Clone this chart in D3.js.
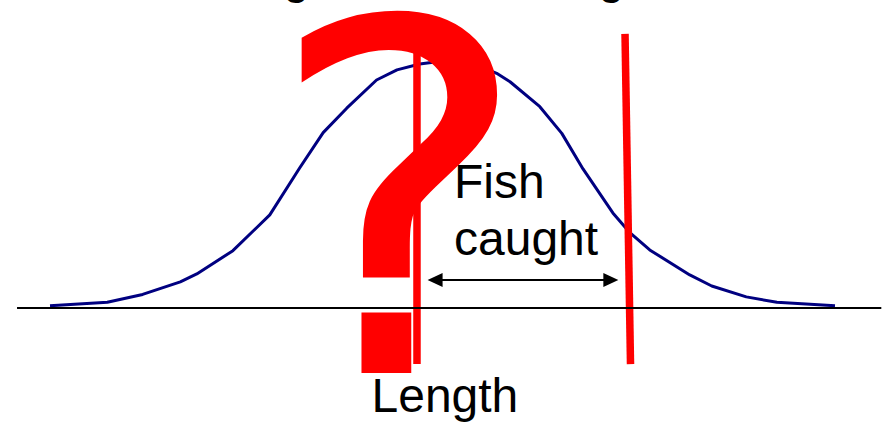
<!DOCTYPE html>
<html>
<head>
<meta charset="utf-8">
<script src="https://cdn.jsdelivr.net/npm/d3@7"></script>
<style>
  html, body { margin: 0; padding: 0; background: #fff; }
  svg { display: block; font-family: "Liberation Sans", Arial, sans-serif; }
</style>
</head>
<body>
<div id="chart"></div>
<script>
// length classes (arbitrary units) and relative frequency
const lengths = [0, 7.3, 11.8, 16.6, 18.7, 23.3, 28.0, 31.8, 34.8, 37.8, 41.6, 44.2, 47.1, 49.3,
    51.6, 54.1, 56.9, 58.6, 62.4, 65.2, 67.9, 71.7, 73.9, 76.4, 81.5, 84.3, 88.7, 92.6, 100];
const frequency = [0.9, 2.3, 5.5, 10.6, 13.8, 23.2, 37.7, 56.7, 71.0, 80.9, 92.3, 96.4, 98.8, 99.7,
    100, 98.8, 95.0, 91.6, 81.5, 70.7, 56.3, 38.5, 30.4, 23.5, 13.4, 8.9, 4.5, 2.3, 0.9];

// gear limits, as [length at top, length at bottom] of each red bar
const lowerLimit = [46.75, 46.75];
const upperLimit = [73.25, 73.95];
const limitSpan = [111, -22.7];      // frequency units at the top / bottom of the bars
const caughtRange = [48.1, 72.4];    // arrow ends
const arrowLevel = 11.3;
const axisExtent = [-4.2, 105.9];    // baseline runs a bit past the curve

const labels = { fish: ["Fish", "caught"], axis: "Length", mark: "?" };

const width = 887, height = 423;

const xScale = d3.scaleLinear().domain([0, 100]).range([50, 835]);
const yScale = d3.scaleLinear().domain([0, 100]).range([308, 61]);

const svg = d3.select("#chart").append("svg")
    .attr("width", width)
    .attr("height", height);

// title of the slide sits above the frame, only the g tails show
svg.selectAll(".title-g")
    .data([296.5, 611.5])
    .enter().append("text")
    .attr("class", "title-g")
    .attr("x", d => d)
    .attr("y", -5.5)
    .attr("text-anchor", "middle")
    .attr("font-size", 40)
    .attr("font-weight", "bold")
    .text("g");

// population curve
const line = d3.line()
    .x(d => xScale(d[0]))
    .y(d => yScale(d[1]));

svg.append("path")
    .datum(d3.zip(lengths, frequency))
    .attr("fill", "none")
    .attr("stroke", "#000080")
    .attr("stroke-width", 3)
    .attr("stroke-linejoin", "round")
    .attr("d", line);

// gear selectivity limits
svg.selectAll(".limit")
    .data([lowerLimit, upperLimit])
    .enter().append("line")
    .attr("class", "limit")
    .attr("x1", d => xScale(d[0]))
    .attr("y1", yScale(limitSpan[0]))
    .attr("x2", d => xScale(d[1]))
    .attr("y2", yScale(limitSpan[1]))
    .attr("stroke", "#ff0000")
    .attr("stroke-width", 7.5);

// baseline
svg.append("line")
    .attr("x1", xScale(axisExtent[0]))
    .attr("x2", xScale(axisExtent[1]))
    .attr("y1", yScale(0))
    .attr("y2", yScale(0))
    .attr("stroke", "#000")
    .attr("stroke-width", 2);

// big question mark, stretched to fit its box
const qFont = '"DejaVu Sans"';
const qBox = { left: 297, right: 501, top: 7, bottom: 373 };
const ctx = document.createElement("canvas").getContext("2d");
ctx.font = `500px ${qFont}`;
const m = ctx.measureText(labels.mark);
const sx = (qBox.right - qBox.left) / (m.actualBoundingBoxLeft + m.actualBoundingBoxRight);
const sy = (qBox.bottom - qBox.top) / (m.actualBoundingBoxAscent + m.actualBoundingBoxDescent);
svg.append("text")
    .attr("transform", `translate(${qBox.left + sx * m.actualBoundingBoxLeft},${qBox.bottom - sy * m.actualBoundingBoxDescent}) scale(${sx},${sy})`)
    .attr("font-family", qFont)
    .attr("font-size", 500)
    .attr("fill", "#ff0000")
    .text(labels.mark);

// double arrow for the range caught
const ay = yScale(arrowLevel);
const ax0 = xScale(caughtRange[0]), ax1 = xScale(caughtRange[1]);
const head = 15, half = 7;
svg.append("line")
    .attr("x1", ax0 + head - 2).attr("x2", ax1 - head + 2)
    .attr("y1", ay).attr("y2", ay)
    .attr("stroke", "#000")
    .attr("stroke-width", 2);
svg.append("path")
    .attr("d", `M${ax0},${ay}L${ax0 + head},${ay - half}L${ax0 + head},${ay + half}Z` +
        `M${ax1},${ay}L${ax1 - head},${ay - half}L${ax1 - head},${ay + half}Z`)
    .attr("fill", "#000");

// labels
svg.append("text")
    .attr("font-size", 48)
    .selectAll("tspan")
    .data(labels.fish)
    .enter().append("tspan")
    .attr("x", 454)
    .attr("y", (d, i) => 198.3 + i * 56.7)
    .text(d => d);

svg.append("text")
    .attr("x", 371.5)
    .attr("y", 412)
    .attr("font-size", 48)
    .text(labels.axis);
</script>
</body>
</html>
